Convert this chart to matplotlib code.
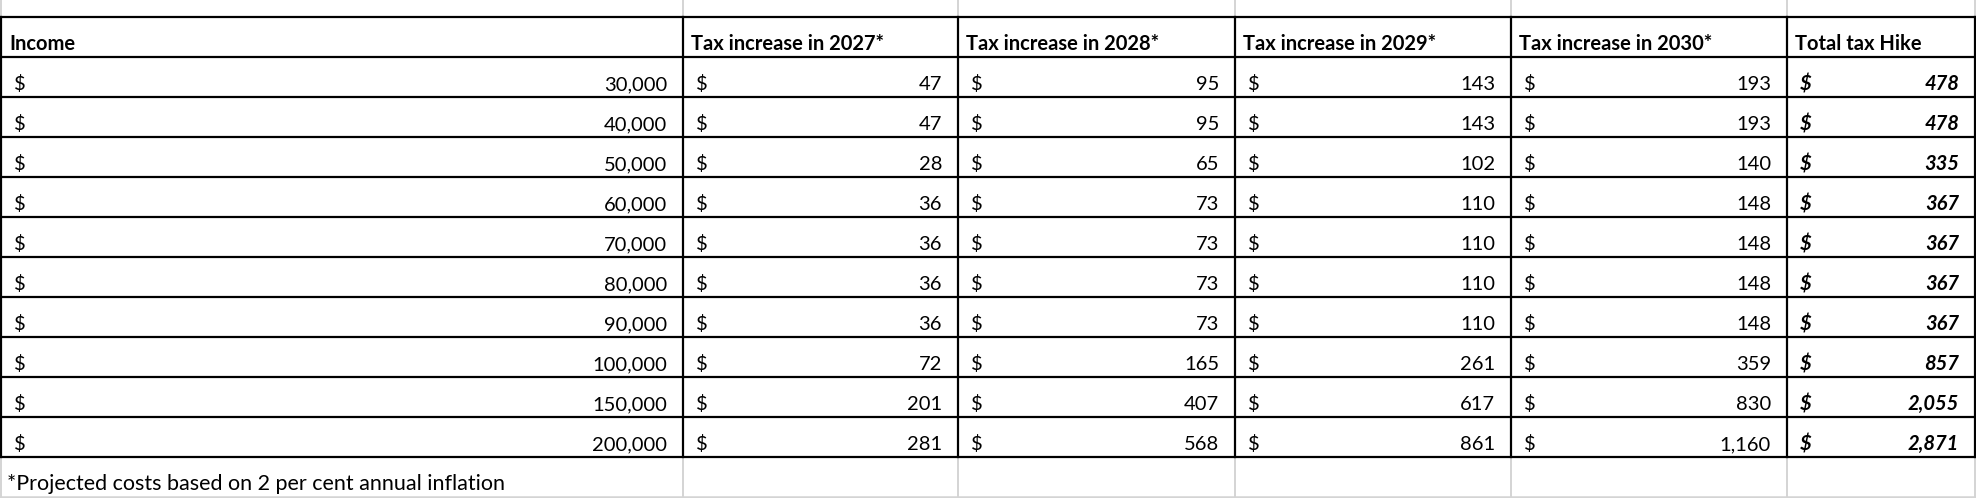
import matplotlib
matplotlib.use("Agg")
import matplotlib.pyplot as plt

# Datos de la tabla
incomes = [30000, 40000, 50000, 60000, 70000, 80000, 90000, 100000, 150000, 200000]
tax_2027 = [47, 47, 28, 36, 36, 36, 36, 72, 201, 281]
tax_2028 = [95, 95, 65, 73, 73, 73, 73, 165, 407, 568]
tax_2029 = [143, 143, 102, 110, 110, 110, 110, 261, 617, 861]
tax_2030 = [193, 193, 140, 148, 148, 148, 148, 359, 830, 1160]
total_hike = [478, 478, 335, 367, 367, 367, 367, 857, 2055, 2871]
headers = ["Income", "Tax increase in 2027*", "Tax increase in 2028*",
           "Tax increase in 2029*", "Tax increase in 2030*", "Total tax Hike"]
footnote = "*Projected costs based on 2 per cent annual inflation"

W, H = 1976, 498
plt.rcParams["font.family"] = ["Lato", "DejaVu Sans"]

fig = plt.figure(figsize=(W / 100, H / 100), dpi=100)
ax = fig.add_axes([0, 0, 1, 1])
ax.set_xlim(0, W)
ax.set_ylim(H, 0)
ax.axis("off")

# Geometría (pixeles)
col_x = [1, 683, 958, 1235, 1511, 1787, 1975]
top = 17
row_h = 40
n_rows = len(incomes)
row_y = [top + row_h * i for i in range(n_rows + 2)]   # header + filas
table_bottom = row_y[-1]
foot_bottom = table_bottom + row_h

grid_col = "#d4d4d4"
fs = 14.5

# Cuadrícula gris (arriba y abajo de la tabla)
for x in col_x:
    ax.plot([x, x], [0, top], color=grid_col, lw=1.4, solid_capstyle="butt")
    ax.plot([x, x], [table_bottom, foot_bottom], color=grid_col, lw=1.4, solid_capstyle="butt")
ax.plot([0, W], [foot_bottom, foot_bottom], color=grid_col, lw=1.8)

# Bordes negros de la tabla
for y in row_y:
    ax.plot([col_x[0], col_x[-1]], [y, y], color="black", lw=1.6, solid_capstyle="projecting")
for x in col_x:
    ax.plot([x, x], [top, table_bottom], color="black", lw=1.6, solid_capstyle="projecting")

# Encabezados
for i, h in enumerate(headers):
    ax.text(col_x[i] + 8, row_y[1] - 7, h, fontsize=fs, fontweight="bold",
            ha="left", va="baseline")

# Filas
columns = [incomes, tax_2027, tax_2028, tax_2029, tax_2030, total_hike]
for r in range(n_rows):
    yb = row_y[r + 2] - 7
    for c, vals in enumerate(columns):
        style = dict(fontsize=fs, va="baseline")
        if c == len(columns) - 1:
            style.update(fontweight="bold", fontstyle="italic")
        ax.text(col_x[c] + 13, yb, "$", ha="left", **style)
        ax.text(col_x[c + 1] - 16, yb, f"{vals[r]:,}", ha="right", **style)

# Nota al pie
ax.text(7, foot_bottom - 7, footnote, fontsize=15.5, ha="left", va="baseline")

fig.savefig("out.png", dpi=100, facecolor="white")
